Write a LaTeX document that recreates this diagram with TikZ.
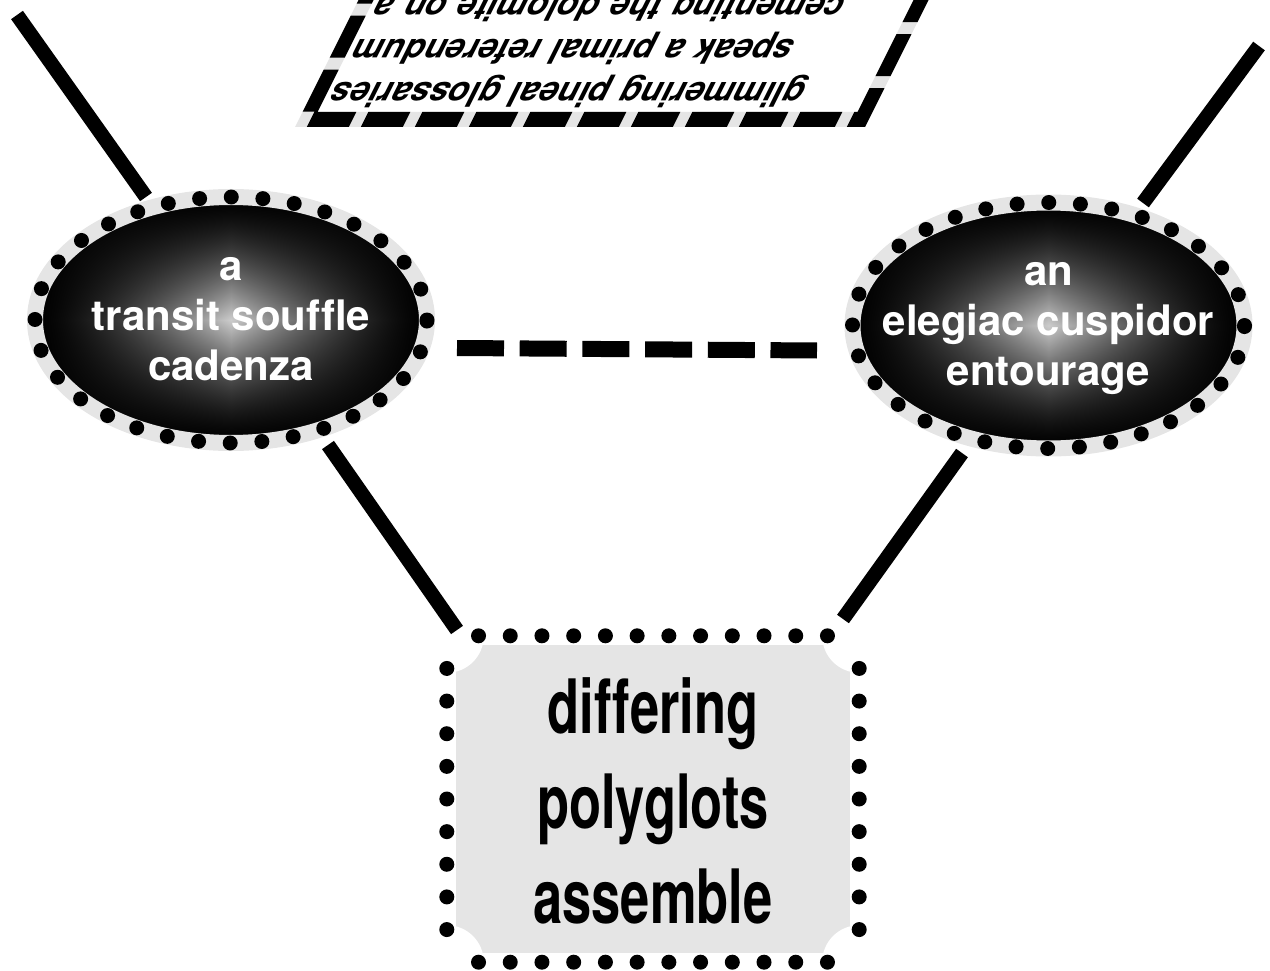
\documentclass[tikz,border=0pt]{standalone}
\usepackage{fontspec}
\setmainfont{TeX Gyre Heros}[Ligatures=NoCommon]
\usetikzlibrary{calc,shapes.geometric}
\pgfdeclarelayer{background}
\pgfsetlayers{background,main}
\pgfdeclarefunctionalshading{starglow}{\pgfpoint{-50bp}{-50bp}}{\pgfpoint{50bp}{50bp}}{}{
  abs 25 div 1 exch sub dup abs add 2 div
  exch abs 25 div 1 exch sub dup abs add 2 div
  mul dup sqrt mul 0.8 mul
  dup dup
}
\tikzset{
  ellnode/.style={ellipse, minimum width=392pt, minimum height=246pt, inner sep=0pt,
    shade, shading=starglow, text=white,
    font=\fontsize{42}{50}\selectfont\bfseries,
    postaction={draw=gray!20, line width=16pt},
    postaction={draw=black, line width=15pt, dash pattern=on 0pt off 31.7pt, line cap=round}},
  topbox/.style={rectangle, fill=white, text width=531pt, inner sep=12pt, align=right,
    font=\fontsize{34}{43}\selectfont\bfseries,
    postaction={draw=gray!20, line width=15pt},
    postaction={draw=black, line width=15pt, dash pattern=on 42pt off 12pt}},
  boxnode/.style={rectangle, minimum width=412pt, minimum height=326pt, inner sep=0pt,
    font=\fontsize{75}{95}\selectfont\bfseries},
  solidedge/.style={line width=14.5pt},
  dashedge/.style={line width=16pt, dash pattern=on 47pt off 15.7pt}
}
\newcommand{\ctext}[1]{\makebox[0pt][c]{\begin{tabular}{@{}c@{}}#1\end{tabular}}}
\begin{document}
\begin{tikzpicture}[x=1pt,y=-1pt]
\useasboundingbox (0,0) rectangle (1270,971);
\clip (0,0) rectangle (1270,971);

% top rotated, slanted box
\begin{scope}[transform canvas={shift={(619.5,48)}, rotate=180, xslant=0.5}]
\node[topbox] (T) at (0,0)
  {glimmering pineal glossaries\\speak a primal referendum\\cementing the dolomite on a};
\end{scope}

% ellipses
\node[ellnode] (A) at (231,320) {\ctext{a\\transit souffle\\cadenza}};
\node[ellnode] (B) at (1048.5,325.5) {\ctext{an\\elegiac cuspidor\\entourage}};

% bottom box
\node[boxnode] (R) at (653,799)
  {\raisebox{-10pt}[\height][\depth]{\scalebox{0.7}[1]{\begin{tabular}{@{}c@{}}differing\\polyglots\\assemble\end{tabular}}}};
\begin{pgfonlayer}{background}
  \fill[gray!20] ($(R.north west)+(9,9)$) rectangle ($(R.south east)+(-9,-9)$);
  \foreach \c in {north west,north east,south west,south east}
    \fill[white] (R.\c) circle (37pt);
  \foreach \i in {1,...,12} {
    \fill ($(R.north west)!\i/13!(R.north east)$) circle (7.5pt);
    \fill ($(R.south west)!\i/13!(R.south east)$) circle (7.5pt);
  }
  \foreach \i in {1,...,9} {
    \fill ($(R.north west)!\i/10!(R.south west)$) circle (7.5pt);
    \fill ($(R.north east)!\i/10!(R.south east)$) circle (7.5pt);
  }
\end{pgfonlayer}

% connector end points
\coordinate (tl) at (17,15);
\coordinate (al) at (146,197);
\coordinate (tr) at (1259,46);
\coordinate (br) at (1143,203);
\coordinate (ad) at (328,445);
\coordinate (rl) at (457,630);
\coordinate (bd) at (962,453);
\coordinate (rr) at (843,619);
\coordinate (ae) at (457,348);
\coordinate (be) at (817,350.5);

\draw[solidedge] (tl) -- (al);
\draw[solidedge] (tr) -- (br);
\draw[solidedge] (ad) -- (rl);
\draw[solidedge] (bd) -- (rr);
\draw[dashedge] (ae) -- (be);
\end{tikzpicture}
\end{document}
